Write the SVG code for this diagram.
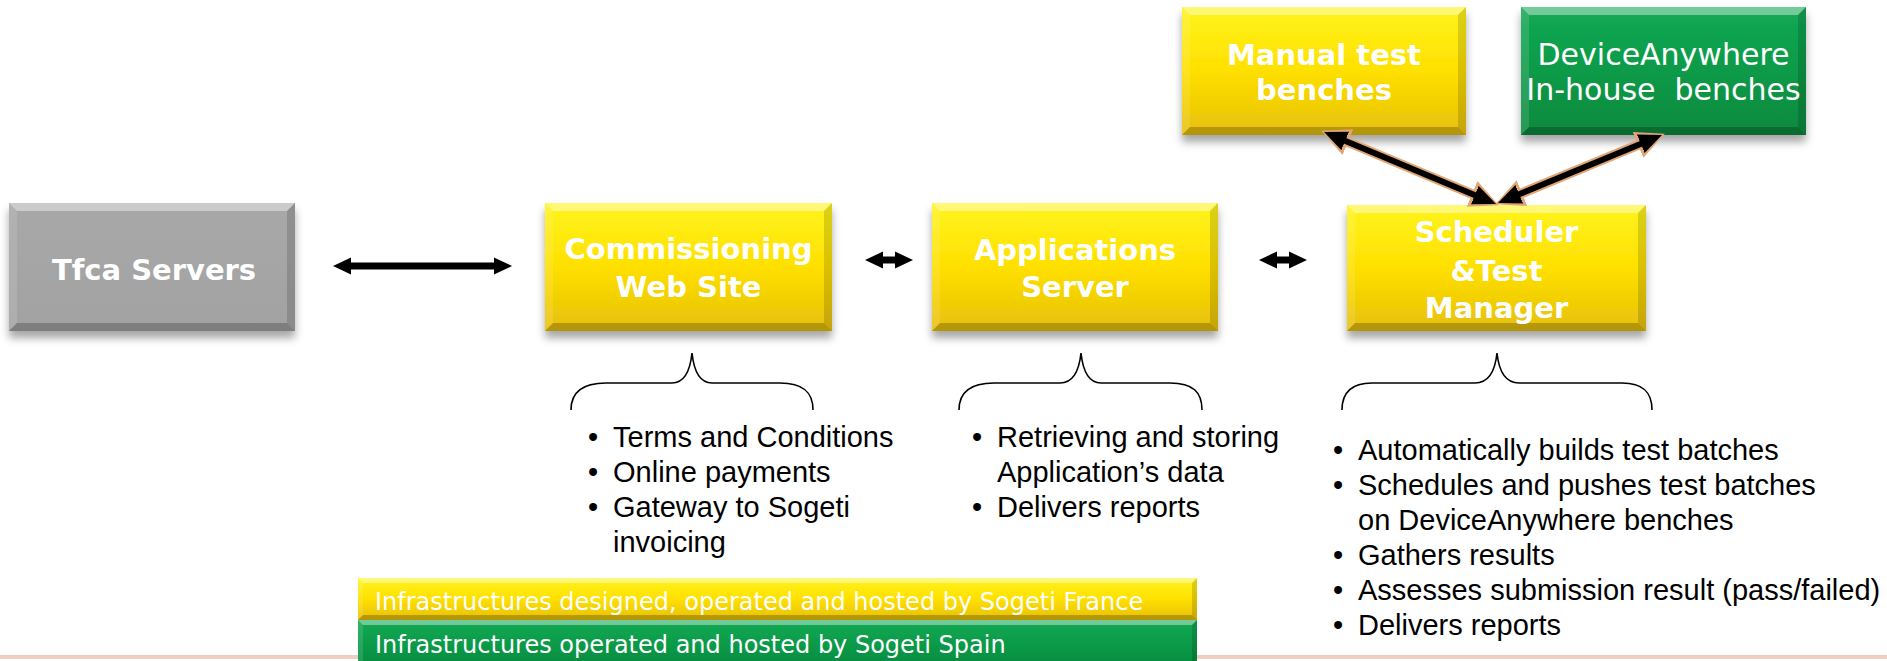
<svg xmlns="http://www.w3.org/2000/svg" width="1887" height="661" viewBox="0 0 1887 661">
<style>
  .bt{fill:#fff;fill-opacity:0.4}
  .bb{fill:#000;fill-opacity:0.22}
  .bl{fill:#fff;fill-opacity:0.12}
  .br{fill:#000;fill-opacity:0.14}
  .nt{font-family:"DejaVu Sans",Verdana,sans-serif;font-size:29px;font-weight:bold;fill:#fff;text-anchor:middle}
  .ntr{font-family:"DejaVu Sans",Verdana,sans-serif;font-size:30px;fill:#fff;text-anchor:middle}
  .lg{font-family:"DejaVu Sans",Verdana,sans-serif;font-size:24px;fill:#fff}
  .bu{font-family:"Liberation Sans",Arial,sans-serif;font-size:29px;fill:#000}
  .brace{fill:none;stroke:#000;stroke-width:1.6}
  .ha{stroke:#000;stroke-width:7;fill:none}
  .da{stroke:#000;stroke-width:6;fill:none}
  .dt{stroke:#e2a675;stroke-width:10;fill:none}
</style>
<defs>
  <linearGradient id="gy" x1="0" y1="0" x2="0" y2="1">
    <stop offset="0" stop-color="#fff41e"/>
    <stop offset="0.5" stop-color="#ffe000"/>
    <stop offset="1" stop-color="#e6bf0a"/>
  </linearGradient>
  <linearGradient id="gg" x1="0" y1="0" x2="0" y2="1">
    <stop offset="0" stop-color="#14a955"/>
    <stop offset="0.5" stop-color="#0a9a48"/>
    <stop offset="1" stop-color="#07893e"/>
  </linearGradient>
  <linearGradient id="gr" x1="0" y1="0" x2="0" y2="1">
    <stop offset="0" stop-color="#a8a8a8"/>
    <stop offset="1" stop-color="#a2a2a2"/>
  </linearGradient>
  <filter id="sh" x="-10%" y="-10%" width="120%" height="140%">
    <feDropShadow dx="0" dy="7" stdDeviation="4" flood-color="#000" flood-opacity="0.35"/>
  </filter>
  <marker id="hb" viewBox="-1 -9 19 18" refX="0" refY="0" markerWidth="19" markerHeight="18" markerUnits="userSpaceOnUse" orient="auto-start-reverse">
    <path d="M-1,-8.5 L17,0 L-1,8.5 z" fill="#000"/>
  </marker>
  <marker id="hd" viewBox="-1 -10 23 20" refX="0" refY="0" markerWidth="23" markerHeight="20" markerUnits="userSpaceOnUse" orient="auto-start-reverse">
    <path d="M-1,-10 L22,0 L-1,10 z" fill="#000"/>
  </marker>
  <marker id="ht" viewBox="-4 -14 30 28" refX="0" refY="0" markerWidth="30" markerHeight="28" markerUnits="userSpaceOnUse" orient="auto-start-reverse">
    <path d="M-4,-14 L25,0 L-4,14 z" fill="#e2a675"/>
  </marker>
</defs>

<rect x="0" y="655" width="1887" height="4" fill="#efcdc2"/>

<g id="tfca">
  <rect x="9" y="203" width="286" height="128" fill="url(#gr)" filter="url(#sh)"/>
  <polygon class="bt" points="9,203 295,203 287,211 17,211"/>
  <polygon class="bb" points="9,331 295,331 287,323 17,323"/>
  <polygon class="bl" points="9,203 17,211 17,323 9,331"/>
  <polygon class="br" points="295,203 287,211 287,323 295,331"/>
  <text class="nt" x="154" y="280">Tfca Servers</text>
</g>

<g id="commissioning">
  <rect x="545" y="203" width="287" height="128" fill="url(#gy)" filter="url(#sh)"/>
  <polygon class="bt" points="545,203 832,203 824,211 553,211"/>
  <polygon class="bb" points="545,331 832,331 824,323 553,323"/>
  <polygon class="bl" points="545,203 553,211 553,323 545,331"/>
  <polygon class="br" points="832,203 824,211 824,323 832,331"/>
  <text class="nt" x="688.5" y="259">Commissioning</text>
  <text class="nt" x="688.5" y="297">Web Site</text>
</g>

<g id="applications">
  <rect x="932" y="203" width="286" height="128" fill="url(#gy)" filter="url(#sh)"/>
  <polygon class="bt" points="932,203 1218,203 1210,211 940,211"/>
  <polygon class="bb" points="932,331 1218,331 1210,323 940,323"/>
  <polygon class="bl" points="932,203 940,211 940,323 932,331"/>
  <polygon class="br" points="1218,203 1210,211 1210,323 1218,331"/>
  <text class="nt" x="1075" y="260">Applications</text>
  <text class="nt" x="1075" y="297">Server</text>
</g>

<g id="scheduler">
  <rect x="1347" y="205" width="299" height="126" fill="url(#gy)" filter="url(#sh)"/>
  <polygon class="bt" points="1347,205 1646,205 1638,213 1355,213"/>
  <polygon class="bb" points="1347,331 1646,331 1638,323 1355,323"/>
  <polygon class="bl" points="1347,205 1355,213 1355,323 1347,331"/>
  <polygon class="br" points="1646,205 1638,213 1638,323 1646,331"/>
  <text class="nt" x="1496.5" y="242">Scheduler</text>
  <text class="nt" x="1496.5" y="281">&amp;Test</text>
  <text class="nt" x="1496.5" y="318">Manager</text>
</g>

<g id="manual">
  <rect x="1182" y="7" width="284" height="128" fill="url(#gy)" filter="url(#sh)"/>
  <polygon class="bt" points="1182,7 1466,7 1458,15 1190,15"/>
  <polygon class="bb" points="1182,135 1466,135 1458,127 1190,127"/>
  <polygon class="bl" points="1182,7 1190,15 1190,127 1182,135"/>
  <polygon class="br" points="1466,7 1458,15 1458,127 1466,135"/>
  <text class="nt" x="1324" y="65">Manual test</text>
  <text class="nt" x="1324" y="100">benches</text>
</g>

<g id="deviceanywhere">
  <rect x="1521" y="7" width="285" height="128" fill="url(#gg)" filter="url(#sh)"/>
  <polygon class="bt" points="1521,7 1806,7 1798,15 1529,15"/>
  <polygon class="bb" points="1521,135 1806,135 1798,127 1529,127"/>
  <polygon class="bl" points="1521,7 1529,15 1529,127 1521,135"/>
  <polygon class="br" points="1806,7 1798,15 1798,127 1806,135"/>
  <text class="ntr" x="1663.5" y="65">DeviceAnywhere</text>
  <text class="ntr" x="1663.5" y="100">In-house&#160; benches</text>
</g>

<g id="connectors">
  <line class="ha" x1="350" y1="266" x2="495" y2="266" marker-start="url(#hb)" marker-end="url(#hb)"/>
  <line class="ha" x1="882" y1="260" x2="896" y2="260" marker-start="url(#hb)" marker-end="url(#hb)"/>
  <line class="ha" x1="1276" y1="260" x2="1290" y2="260" marker-start="url(#hb)" marker-end="url(#hb)"/>
  <line class="dt" x1="1344.3" y1="140.5" x2="1475.7" y2="195.5" marker-start="url(#ht)" marker-end="url(#ht)"/>
  <line class="dt" x1="1641.7" y1="143.4" x2="1518.3" y2="194.6" marker-start="url(#ht)" marker-end="url(#ht)"/>
  <line class="da" x1="1344.3" y1="140.5" x2="1475.7" y2="195.5" marker-start="url(#hd)" marker-end="url(#hd)"/>
  <line class="da" x1="1641.7" y1="143.4" x2="1518.3" y2="194.6" marker-start="url(#hd)" marker-end="url(#hd)"/>
</g>

<g id="braces">
  <path class="brace" d="M571,410 C571,392 582,383 606,383 L672,383 C684,383 690,372 692,353 C694,372 700,383 712,383 L780,383 C803,383 813,392 813,410"/>
  <path class="brace" d="M959,410 C959,392 970,383 994,383 L1060,383 C1072,383 1079,372 1081,353 C1083,372 1089,383 1101,383 L1170,383 C1193,383 1202,392 1202,410"/>
  <path class="brace" d="M1342,410 C1342,392 1352,383 1372,383 L1475,383 C1488,383 1495,372 1497,353 C1499,372 1506,383 1519,383 L1622,383 C1643,383 1652,392 1652,410"/>
</g>

<g id="notes-commissioning" class="bu">
  <text x="588" y="447">•</text><text x="613" y="447">Terms and Conditions</text>
  <text x="588" y="482">•</text><text x="613" y="482">Online payments</text>
  <text x="588" y="517">•</text><text x="613" y="517">Gateway to Sogeti</text>
  <text x="613" y="552">invoicing</text>
</g>

<g id="notes-applications" class="bu">
  <text x="972" y="447">•</text><text x="997" y="447">Retrieving and storing</text>
  <text x="997" y="482">Application’s data</text>
  <text x="972" y="517">•</text><text x="997" y="517">Delivers reports</text>
</g>

<g id="notes-scheduler" class="bu">
  <text x="1333" y="460">•</text><text x="1358" y="460">Automatically builds test batches</text>
  <text x="1333" y="495">•</text><text x="1358" y="495">Schedules and pushes test batches</text>
  <text x="1358" y="530">on DeviceAnywhere benches</text>
  <text x="1333" y="565">•</text><text x="1358" y="565">Gathers results</text>
  <text x="1333" y="600">•</text><text x="1358" y="600">Assesses submission result (pass/failed)</text>
  <text x="1333" y="635">•</text><text x="1358" y="635">Delivers reports</text>
</g>

<g id="legend-france">
  <rect x="358" y="578" width="839" height="42" fill="url(#gy)"/>
  <polygon class="bt" points="358,578 1197,578 1192,583 363,583"/>
  <polygon class="bb" points="358,620 1197,620 1192,615 363,615"/>
  <polygon class="bl" points="358,578 363,583 363,615 358,620"/>
  <polygon class="br" points="1197,578 1192,583 1192,615 1197,620"/>
  <text class="lg" x="375" y="610">Infrastructures designed, operated and hosted by Sogeti France</text>
</g>

<g id="legend-spain">
  <rect x="358" y="620" width="839" height="50" fill="url(#gg)"/>
  <polygon class="bt" points="358,620 1197,620 1192,625 363,625"/>
  <polygon class="bl" points="358,620 363,625 363,670 358,670"/>
  <polygon class="br" points="1197,620 1192,625 1192,670 1197,670"/>
  <text class="lg" x="375" y="653">Infrastructures operated and hosted by Sogeti Spain</text>
</g>
</svg>
